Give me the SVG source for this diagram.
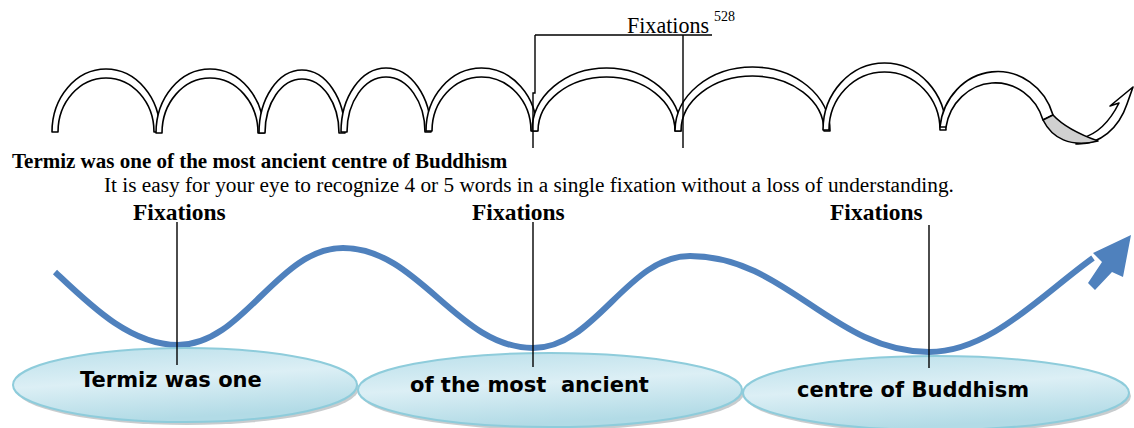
<svg xmlns="http://www.w3.org/2000/svg" width="1134" height="428" viewBox="0 0 1134 428">
<defs>
<linearGradient id="eg" x1="0" y1="0" x2="0.3" y2="1">
<stop offset="0" stop-color="#B9DFEA"/>
<stop offset="0.5" stop-color="#DCEFF5"/>
<stop offset="1" stop-color="#B2DBE6"/>
</linearGradient>
<style>
.arch{fill:#fff;stroke:#000;stroke-width:1.6;stroke-linejoin:round}
.lbl{stroke:#000;stroke-width:1.4;fill:none}
.serif{font-family:"Liberation Serif","Times New Roman",serif;fill:#000}
.ell{fill:url(#eg);stroke:#8ECCDB;stroke-width:2}
.shadow{fill:#9aa3a6;opacity:0.55}
.etxt{font-family:"DejaVu Sans",Verdana,sans-serif;font-weight:bold;font-size:21px;fill:#000}
.wave{fill:none;stroke:#4F81BD;stroke-width:6}
.tick{stroke:#000;stroke-width:1.4}
</style>
</defs>

<g id="top-arches">
<path class="arch" d="M52,132 A54,63 0 0 1 160,132 L154,132 A48,54 0 0 0 58,132 Z"/>
<path class="arch" d="M156,133 A54,64 0 0 1 264,133 L258,133 A48,55 0 0 0 162,133 Z"/>
<path class="arch" d="M259,133 A43,63 0 0 1 345,133 L339,133 A37,54 0 0 0 265,133 Z"/>
<path class="arch" d="M341,132 A45,64 0 0 1 431,132 L425,132 A39,55 0 0 0 347,132 Z"/>
<path class="arch" d="M426,131 A55.5,63 0 0 1 537,131 L531,131 A49.5,54 0 0 0 432,131 Z"/>
<path class="arch" d="M532,131 A74.5,63 0 0 1 681,131 L675,131 A68.5,54 0 0 0 538,131 Z"/>
<path class="arch" d="M675,131 A77.5,64 0 0 1 830,131 L824,131 A71.5,55 0 0 0 681,131 Z"/>
<path class="arch" d="M823,130 A61.5,67 0 0 1 946,130 L940,130 A55.5,58 0 0 0 829,130 Z"/>
<path class="arch" d="M940,127 A58,62 0 0 1 1053,115 L1043,120 A50,53 0 0 0 946,127 Z"/>
<path class="arch" d="M1076,144 C1100,145 1119,128 1127,104 L1133,87 L1110,106 L1119,103 C1110,121 1097,134 1082,138 Z"/>
<path d="M1043,120 C1052,138 1070,148 1098,141 C1084,136 1065,128 1053,115 Z" fill="#D0D0D0" stroke="#000" stroke-width="1.6" stroke-linejoin="round"/>
</g>

<g id="top-label">
<path class="lbl" d="M535,35 L712,35 M535,35 L535,93 L533,93 L533,148 M683,35 L683,148"/>
<text class="serif" x="627" y="33" font-size="24" textLength="82" lengthAdjust="spacingAndGlyphs">Fixations</text>
<text class="serif" x="714" y="21" font-size="14">528</text>
</g>

<g id="texts">
<text class="serif" x="12" y="168" font-size="21" font-weight="bold">Termiz was one of the most ancient centre of Buddhism</text>
<text class="serif" x="104" y="192" font-size="21.3">It is easy for your eye to recognize 4 or 5 words in a single fixation without a loss of understanding.</text>
</g>

<g id="fix1"><text class="serif" x="133" y="220" font-size="23.5" font-weight="bold">Fixations</text></g>
<g id="fix2"><text class="serif" x="472" y="220" font-size="23.5" font-weight="bold">Fixations</text></g>
<g id="fix3"><text class="serif" x="830" y="220" font-size="23.5" font-weight="bold">Fixations</text></g>

<g id="wave">
<path class="wave" d="M55,272 C90,305 130,345 178,345 C244,345 277,248 343,248 C419,248 457,348 533,348 C596,348 627,256 690,256 C786,256 833,352 929,352 C990,352 1040,296 1093,258"/>
<polygon points="1131,235 1093,253 1102,262 1088,283 1095,290 1112,272 1123,277" fill="#4F81BD"/>
</g>

<g id="ellipse1">
<ellipse class="shadow" cx="187" cy="388" rx="172" ry="37"/>
<ellipse class="ell" cx="185" cy="385" rx="172" ry="37"/>
<text class="etxt" x="80" y="387">Termiz was one</text>
</g>
<g id="ellipse2">
<ellipse class="shadow" cx="552" cy="393" rx="192" ry="37"/>
<ellipse class="ell" cx="550" cy="390" rx="192" ry="37"/>
<text class="etxt" x="410" y="392" xml:space="preserve">of the most  ancient</text>
</g>
<g id="ellipse3">
<ellipse class="shadow" cx="938" cy="396" rx="193" ry="37"/>
<ellipse class="ell" cx="936" cy="393" rx="193" ry="37"/>
<text class="etxt" x="797" y="397">centre of Buddhism</text>
</g>

<g id="connectors">
<line class="tick" x1="177" y1="222" x2="177" y2="365"/>
<line class="tick" x1="533" y1="222" x2="533" y2="367"/>
<line class="tick" x1="929" y1="225" x2="929" y2="368"/>
</g>
</svg>
